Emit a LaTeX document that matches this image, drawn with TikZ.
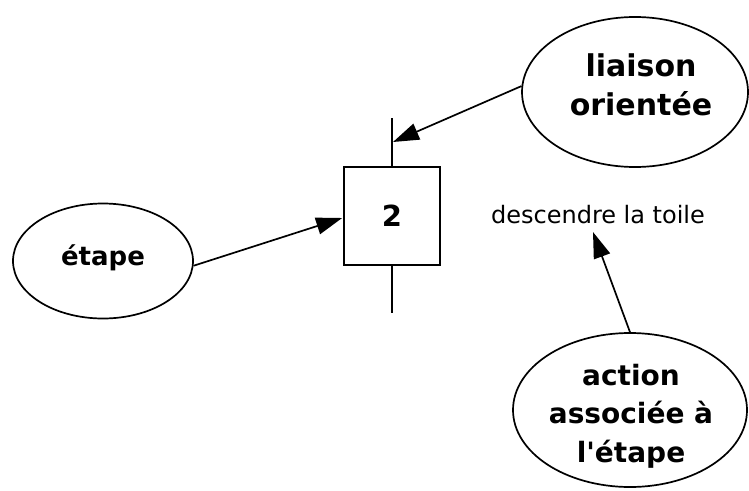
\documentclass[tikz,border=0pt]{standalone}
\usepackage{fontspec}
\setmainfont{DejaVu Sans}[Ligatures=TeXOff]
\usetikzlibrary{shapes.geometric,arrows.meta,calc}
\begin{document}
\begin{tikzpicture}[x=1pt,y=-1pt,
  bubble/.style={draw,ellipse,line width=1.7pt,inner sep=0pt},
  stepbox/.style={draw,rectangle,line width=1.7pt,minimum width=96pt,minimum height=98pt,inner sep=0pt,font=\bfseries\fontsize{29}{30}\selectfont},
  link/.style={line width=1.7pt},
  pointer/.style={line width=1.7pt,-{Triangle[length=26pt,width=17pt]}},
  btext/.style={font=\bfseries\fontsize{#1}{38.5}\selectfont,align=center,inner sep=0pt},
  btext/.default=28]
\useasboundingbox (0,0) rectangle (749,490);
% ellipses
\node[bubble,minimum width=226pt,minimum height=150pt] (lia) at (635,92) {};
\node[bubble,minimum width=180pt,minimum height=115pt] (et) at (103,261) {};
\node[bubble,minimum width=234pt,minimum height=154pt] (act) at (630,410) {};
% texts
\node[btext=30] (liat) at (641,85) {liaison\\orientée};
\node[btext=26,anchor=base] (ett) at (103,265) {étape};
\node[btext=28] (actt) at (631,416) {action\\associée à\\l'étape};
\node[font=\fontsize{24}{26}\selectfont,anchor=base,inner sep=0pt] (desc) at (598,223) {descendre la toile};
% step box
\node[stepbox] (box) at (392,216) {2};
\coordinate (ltop) at (392,118);
\coordinate (lbot) at (392,313);
\coordinate (tipL) at (393,142);
\coordinate (tipA) at (593,232);
\draw[link] (ltop) -- (box.north);
\draw[link] (box.south) -- (lbot);
% arrows
\draw[pointer] (lia.177) -- (tipL);
\draw[pointer] (et.-3) -- ($(box.west)+(-1,2)$);
\draw[pointer] (act.north) -- (tipA);
\end{tikzpicture}
\end{document}
